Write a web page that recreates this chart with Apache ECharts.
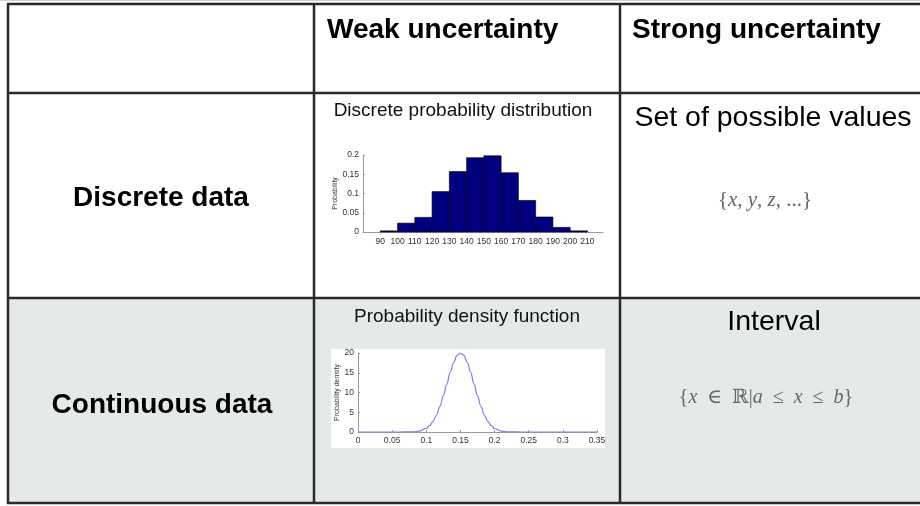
<!DOCTYPE html>
<html><head><meta charset="utf-8">
<script src="https://cdn.jsdelivr.net/npm/echarts@6/dist/echarts.min.js"></script>
<style>html,body{margin:0;padding:0;background:#fff}#c{width:920px;height:506px}</style>
</head><body><div id="c"></div>
<script>
// ---- Data ----
const binStarts = [90, 100, 110, 120, 130, 140, 150, 160, 170, 180, 190, 200];
const binWidth = 10;
const probabilities = [0.003, 0.023, 0.038, 0.105, 0.157, 0.193, 0.198, 0.154, 0.082, 0.039, 0.012, 0.003];
const histTickLabels = [90, 100, 110, 120, 130, 140, 150, 160, 170, 180, 190, 200, 210];

const densityX = [0, 0.05, 0.07, 0.08, 0.09, 0.10, 0.105, 0.11, 0.115, 0.12, 0.125, 0.13, 0.135, 0.14, 0.145, 0.15,
                  0.155, 0.16, 0.165, 0.17, 0.175, 0.18, 0.185, 0.19, 0.195, 0.20, 0.21, 0.22, 0.23, 0.25, 0.30, 0.35];
const densityY = [0, 0, 0.01, 0.04, 0.22, 0.88, 1.6, 2.7, 4.3, 6.5, 9.2, 12.1, 15.1, 17.6, 19.4, 20,
                  19.4, 17.6, 15.1, 12.1, 9.2, 6.5, 4.3, 2.7, 1.6, 0.88, 0.22, 0.04, 0.01, 0, 0, 0];
const densityTicks = [0, 0.05, 0.1, 0.15, 0.2, 0.25, 0.3, 0.35];

const colHeaders = ['Weak uncertainty', 'Strong uncertainty'];
const rowHeaders = ['Discrete data', 'Continuous data'];
const chartTitles = ['Discrete probability distribution', 'Probability density function'];
const strongTitles = ['Set of possible values', 'Interval'];

// ---- Chart ----
const chart = echarts.init(document.getElementById('c'), null, {renderer: 'canvas'});
const sans = 'Liberation Sans, Arial, sans-serif';
const serif = 'Liberation Serif, DejaVu Serif, serif';
const lineCol = '#2a2a2a';
const axisGray = '#9a9a9a';
const labelCol = '#333';
const mathCol = '#666';

const histData = binStarts.map((s, i) => [s, s + binWidth, probabilities[i]]);
const densityData = densityX.map((x, i) => [x, densityY[i]]);

function L(x1, y1, x2, y2, c, w) {
  return {type: 'line', z: 20, shape: {x1, y1, x2, y2}, style: {stroke: c || lineCol, lineWidth: w || 2.5}};
}

const option = {
  animation: false,
  backgroundColor: '#fff',
  grid: [
    {left: 363, top: 155, width: 240, height: 77},
    {left: 358, top: 353, width: 239, height: 79}
  ],
  xAxis: [
    {
      gridIndex: 0, type: 'value', min: 80, max: 219, interval: 10,
      splitLine: {show: false},
      axisLine: {lineStyle: {color: axisGray, width: 1}},
      axisTick: {show: false},
      axisLabel: {
        fontSize: 8.5, color: labelCol, fontFamily: sans, margin: 5,
        showMinLabel: false, showMaxLabel: false,
        formatter: v => histTickLabels.indexOf(Math.round(v)) >= 0 && Math.abs(v - Math.round(v)) < 1e-6 ? String(Math.round(v)) : ''
      }
    },
    {
      gridIndex: 1, type: 'value', min: 0, max: 0.35, interval: 0.05,
      splitLine: {show: false},
      axisLine: {lineStyle: {color: axisGray, width: 1}},
      axisTick: {show: true, inside: true, length: 2, lineStyle: {color: axisGray}},
      axisLabel: {
        fontSize: 8.5, color: labelCol, fontFamily: sans, margin: 4,
        formatter: v => {
          const t = densityTicks.find(d => Math.abs(d - v) < 1e-9);
          return t === undefined ? '' : String(t);
        }
      }
    }
  ],
  yAxis: [
    {
      gridIndex: 0, type: 'value', min: 0, max: 0.2, interval: 0.05,
      splitLine: {show: false},
      axisLine: {show: true, lineStyle: {color: axisGray, width: 1}},
      axisTick: {show: true, inside: true, length: 2, lineStyle: {color: axisGray}},
      axisLabel: {fontSize: 8.5, color: labelCol, fontFamily: sans, margin: 4},
      name: 'Probability', nameLocation: 'middle', nameRotate: 90, nameGap: 24,
      nameTextStyle: {fontSize: 7, color: labelCol, fontFamily: sans}
    },
    {
      gridIndex: 1, type: 'value', min: 0, max: 20, interval: 5,
      splitLine: {show: false},
      axisLine: {show: true, lineStyle: {color: axisGray, width: 1}},
      axisTick: {show: true, inside: true, length: 2, lineStyle: {color: axisGray}},
      axisLabel: {fontSize: 8.5, color: labelCol, fontFamily: sans, margin: 4},
      name: 'Probability density', nameLocation: 'middle', nameRotate: 90, nameGap: 17,
      nameTextStyle: {fontSize: 7, color: labelCol, fontFamily: sans}
    }
  ],
  series: [
    {
      type: 'custom', xAxisIndex: 0, yAxisIndex: 0, data: histData,
      encode: {x: [0, 1], y: 2},
      renderItem: function (params, api) {
        const p0 = api.coord([api.value(0), 0]);
        const p1 = api.coord([api.value(1), api.value(2)]);
        return {
          type: 'rect',
          shape: {x: p0[0], y: p1[1], width: p1[0] - p0[0], height: p0[1] - p1[1]},
          style: {fill: '#00007f', stroke: '#000', lineWidth: 0.6}
        };
      }
    },
    {
      type: 'line', xAxisIndex: 1, yAxisIndex: 1, data: densityData,
      smooth: 0.4, smoothMonotone: 'x', showSymbol: false,
      lineStyle: {color: '#7b7bea', width: 1.2}
    }
  ],
  graphic: [
    // backgrounds
    {type: 'rect', z: -10, shape: {x: 8, y: 298, width: 912, height: 205}, style: {fill: '#e6e9ea'}},
    {type: 'rect', z: -9, shape: {x: 331, y: 349, width: 274, height: 99}, style: {fill: '#ffffff'}},
    // table lines
    L(0, 0.5, 920, 0.5, '#cfcfcf', 1),
    L(7, 4, 920, 4),
    L(7, 93, 920, 93),
    L(7, 298, 920, 298),
    L(7, 503, 920, 503),
    L(8, 3, 8, 504),
    L(314, 3, 314, 504),
    L(620, 3, 620, 504),
    // headers
    {type: 'text', z: 30, x: 327, y: 30, style: {text: colHeaders[0], font: 'bold 28px ' + sans, fill: '#000', verticalAlign: 'middle'}},
    {type: 'text', z: 30, x: 632, y: 30, style: {text: colHeaders[1], font: 'bold 28px ' + sans, fill: '#000', verticalAlign: 'middle'}},
    {type: 'text', z: 30, x: 161, y: 198, style: {text: rowHeaders[0], font: 'bold 28px ' + sans, fill: '#000', align: 'center', verticalAlign: 'middle'}},
    {type: 'text', z: 30, x: 162, y: 405, style: {text: rowHeaders[1], font: 'bold 28px ' + sans, fill: '#000', align: 'center', verticalAlign: 'middle'}},
    // chart titles
    {type: 'text', z: 30, x: 463, y: 111, style: {text: chartTitles[0], font: '19px ' + sans, fill: '#111', align: 'center', verticalAlign: 'middle'}},
    {type: 'text', z: 30, x: 467, y: 317, style: {text: chartTitles[1], font: '19px ' + sans, fill: '#111', align: 'center', verticalAlign: 'middle'}},
    // strong uncertainty
    {type: 'text', z: 30, x: 773, y: 118, style: {text: strongTitles[0], font: '28.5px ' + sans, fill: '#000', align: 'center', verticalAlign: 'middle'}},
    {type: 'text', z: 30, x: 774, y: 322, style: {text: strongTitles[1], font: '28.5px ' + sans, fill: '#000', align: 'center', verticalAlign: 'middle'}},
    {type: 'text', z: 30, x: 765, y: 200, style: {
      text: '{' + '{i|x}, {i|y}, {i|z}, ...}', font: '21px ' + serif, fill: mathCol, align: 'center', verticalAlign: 'middle',
      rich: {i: {fontStyle: 'italic', fontFamily: serif, fontSize: 21, fill: mathCol}}
    }},
    {type: 'text', z: 30, x: 766, y: 398, style: {
      text: '{' + '{i|x}  \u2208  \u211D|{i|a}  \u2264  {i|x}  \u2264  {i|b}}', font: '20px ' + serif, fill: mathCol, align: 'center', verticalAlign: 'middle',
      rich: {i: {fontStyle: 'italic', fontFamily: serif, fontSize: 20, fill: mathCol}}
    }}
  ]
};
chart.setOption(option);
</script>
</body></html>
